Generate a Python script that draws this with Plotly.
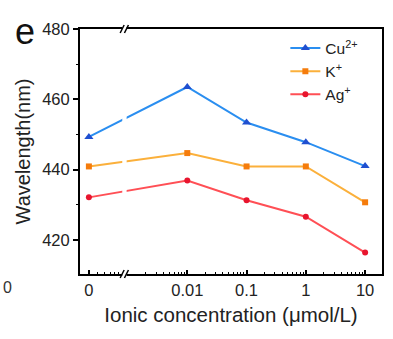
import math
import plotly.graph_objects as go

# Ion concentrations (µmol/L) and measured emission wavelengths (nm)
conc_labels = ["0", "0.01", "0.1", "1", "10"]
conc_values = [0, 0.01, 0.1, 1, 10]
cu_nm = [449.3, 463.5, 453.4, 447.8, 441.0]
k_nm = [440.9, 444.7, 440.9, 440.9, 430.7]
ag_nm = [432.1, 436.9, 431.3, 426.6, 416.4]

series_names = ["Cu<sup>2+</sup>", "K<sup>+</sup>", "Ag<sup>+</sup>"]

# broken log axis: zero is placed left of the axis break
ZERO_POS = -3.66
BREAK_POS = -3.06
X_RANGE = [-3.81, 1.285]
Y_RANGE = [410.3, 480]


def xpos(c):
    return ZERO_POS if c == 0 else math.log10(c)


xs = [xpos(c) for c in conc_values]

fig = go.Figure()
styles = [
    (cu_nm, "#2a8ef0", "#1f4fd0", "triangle-up", 8),
    (k_nm, "#fbb03b", "#f57c0c", "square", 6),
    (ag_nm, "#ff4f55", "#e8152e", "circle", 6),
]
for name, (vals, lc, mc, sym, ms) in zip(series_names, styles):
    fig.add_trace(go.Scatter(
        x=xs, y=vals, name=name, mode="lines+markers",
        line=dict(color=lc, width=2),
        marker=dict(color=mc, symbol=sym, size=ms),
    ))

# minor log ticks on the concentration axis
minor_vals = []
for dec in (-4, -3, -2, -1, 0):
    for k in range(2, 10):
        v = dec + math.log10(k)
        if X_RANGE[0] < v < X_RANGE[1] and abs(v - BREAK_POS) > 0.05 and v > ZERO_POS + 0.05:
            minor_vals.append(v)

font = "Liberation Sans, Arial, sans-serif"

fig.update_layout(
    width=393, height=339,
    margin=dict(l=80, r=9, t=29, b=65),
    paper_bgcolor="white", plot_bgcolor="white",
    font=dict(family=font, color="#222", size=16),
    showlegend=True,
    legend=dict(x=0.68, y=0.99, xanchor="left", yanchor="top",
                bgcolor="rgba(0,0,0,0)", font=dict(size=15.5),
                itemwidth=30, tracegroupgap=0),
    xaxis=dict(
        range=X_RANGE, tickmode="array", tickvals=xs, ticktext=conc_labels,
        showgrid=False, zeroline=False, showline=True, linecolor="black",
        linewidth=2, mirror=True, ticks="inside", ticklen=4, tickwidth=1.5,
        tickcolor="black", tickfont=dict(size=16.5),
        minor=dict(tickvals=minor_vals, ticks="inside", ticklen=2,
                   tickwidth=1, tickcolor="black"),
        title=dict(text="Ionic concentration (μmol/L)", font=dict(size=20.5),
                   standoff=10),
    ),
    yaxis=dict(
        range=Y_RANGE, tickvals=[420, 440, 460, 480],
        showgrid=False, zeroline=False, showline=True, linecolor="black",
        linewidth=2, mirror=True, ticks="outside", ticklen=5, tickwidth=1.5,
        tickcolor="black", tickfont=dict(size=16.5),
        minor=dict(tickvals=[430, 450, 470], ticks="outside", ticklen=2,
                   tickwidth=1, tickcolor="black"),
        title=dict(text="Wavelength(nm)", font=dict(size=20), standoff=6),
    ),
)

# axis break: white gap plus slanted marks on both horizontal axes
px_x = (X_RANGE[1] - X_RANGE[0]) / 304.0
px_y = 1.0 / 245.0
gap_l, gap_r = BREAK_POS - 2.2 * px_x, BREAK_POS + 2.2 * px_x
fig.add_shape(type="rect", xref="x", yref="paper", x0=gap_l, x1=gap_r,
              y0=-0.02, y1=1.02, fillcolor="white", line=dict(width=0),
              layer="above")
for ybase in (0.0, 1.0):
    for off in (-2.3, 2.0):
        fig.add_shape(type="line", xref="x", yref="paper",
                      x0=BREAK_POS + (off - 2) * px_x, y0=ybase - 4 * px_y,
                      x1=BREAK_POS + (off + 2) * px_x, y1=ybase + 4 * px_y,
                      line=dict(color="black", width=1.5), layer="above")

fig.add_annotation(text="e", xref="paper", yref="paper", x=-0.182, y=0.99,
                   xanchor="center", yanchor="middle", showarrow=False,
                   font=dict(size=36, color="#111"))
fig.add_annotation(text="0", xref="paper", yref="paper", x=-0.24, y=-0.055,
                   xanchor="center", yanchor="middle", showarrow=False,
                   font=dict(size=16, color="#333"))

fig.write_html("out.html")
